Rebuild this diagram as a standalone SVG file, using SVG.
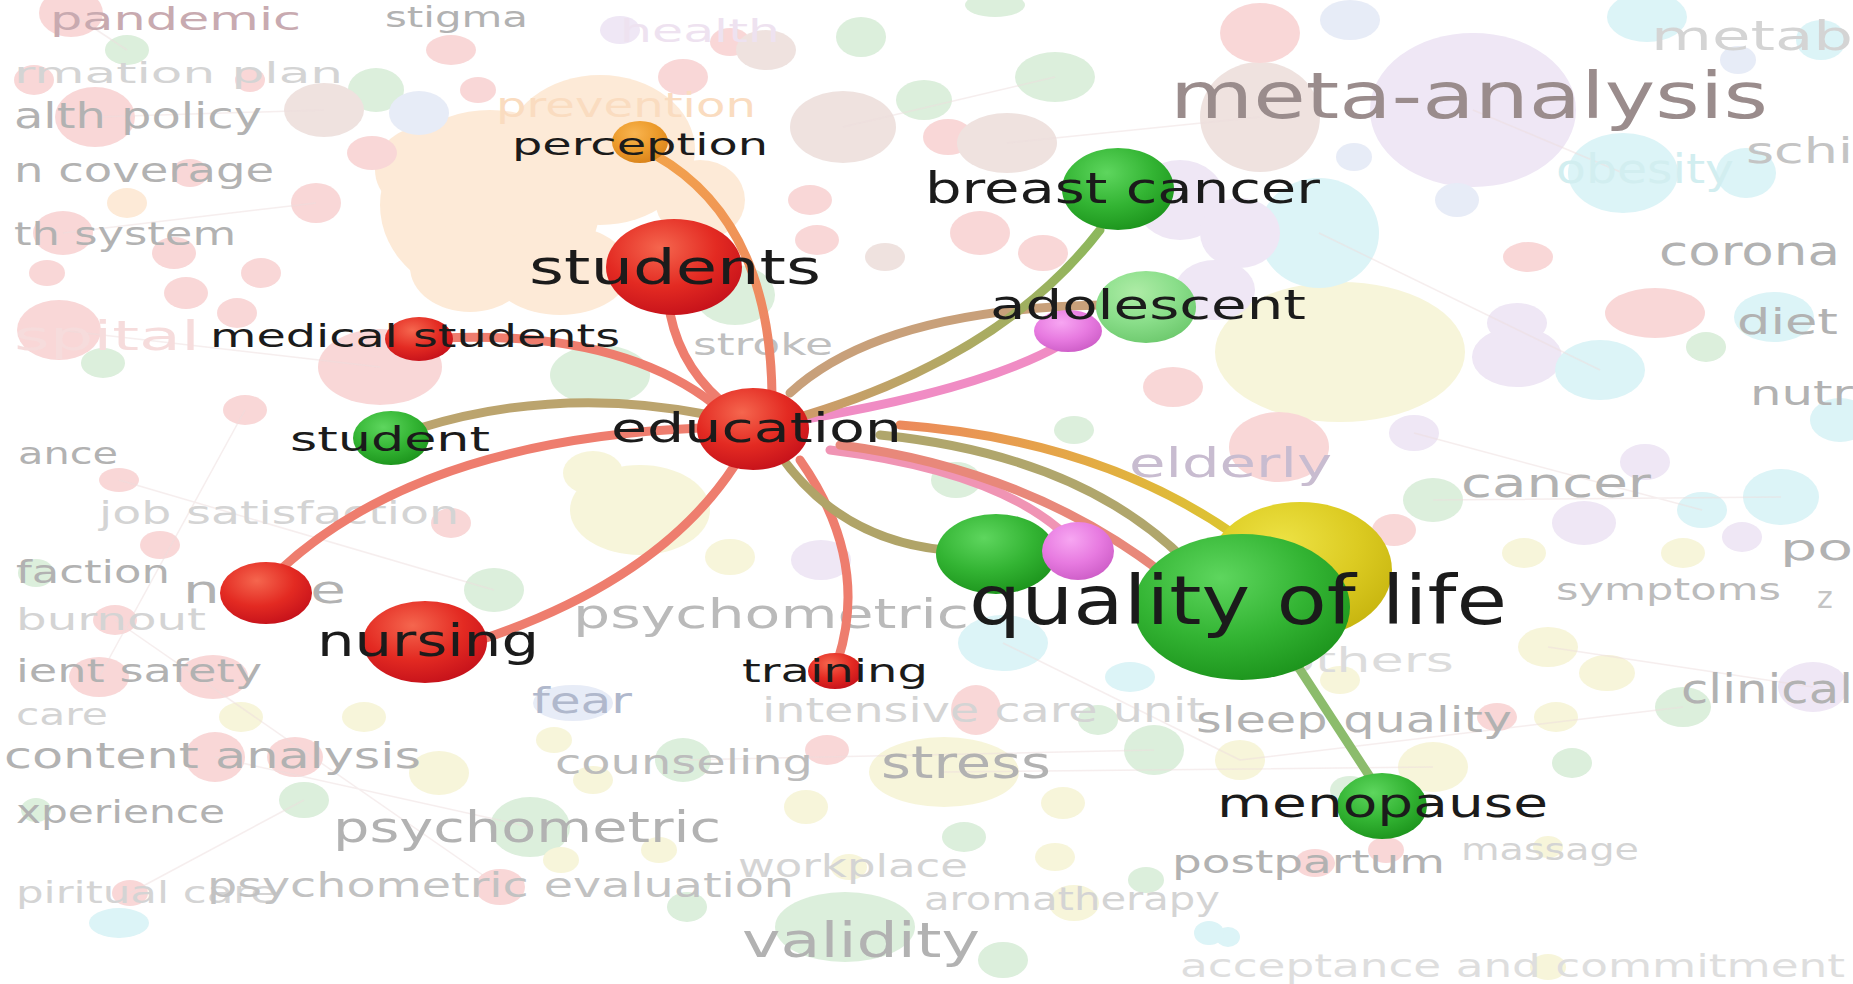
<svg xmlns="http://www.w3.org/2000/svg" width="1853" height="984" viewBox="0 0 1853 984">
<defs>
<style>
text{font-family:"DejaVu Sans","Verdana",sans-serif}
.lbl{fill:#1b1b1b}
.fd{fill:#b2b2b2}
.fv{fill:#d4d4d4}
.p{fill:#f7c9c9}.g{fill:#cfe9cf}.o{fill:#fde3c8}.u{fill:#e9def2}.c{fill:#cff0f4}.y{fill:#f5f2cc}.b{fill:#e9d8d4}.l{fill:#dfe5f4}
.bgl{fill:none;stroke:#eedede;stroke-width:1.5;opacity:.5}
.e{fill:none;stroke-width:9;stroke-linecap:round}
</style>
<radialGradient id="gRed" cx="0.4" cy="0.3" r="0.75"><stop offset="0" stop-color="#f5664e"/><stop offset="0.55" stop-color="#e32a22"/><stop offset="1" stop-color="#c4101a"/></radialGradient>
<radialGradient id="gGreen" cx="0.4" cy="0.3" r="0.75"><stop offset="0" stop-color="#5ed65e"/><stop offset="0.55" stop-color="#33b433"/><stop offset="1" stop-color="#1b921b"/></radialGradient>
<radialGradient id="gOrange" cx="0.4" cy="0.3" r="0.75"><stop offset="0" stop-color="#f8b450"/><stop offset="0.55" stop-color="#ec9a2a"/><stop offset="1" stop-color="#d8821a"/></radialGradient>
<radialGradient id="gPink" cx="0.4" cy="0.3" r="0.75"><stop offset="0" stop-color="#f7a6f2"/><stop offset="0.55" stop-color="#e77ae0"/><stop offset="1" stop-color="#cc5cc6"/></radialGradient>
<radialGradient id="gYellow" cx="0.4" cy="0.3" r="0.75"><stop offset="0" stop-color="#ede244"/><stop offset="0.55" stop-color="#dccb22"/><stop offset="1" stop-color="#c6b40e"/></radialGradient>
<radialGradient id="gLGreen" cx="0.4" cy="0.3" r="0.75"><stop offset="0" stop-color="#aeeca6"/><stop offset="0.55" stop-color="#8ade8a"/><stop offset="1" stop-color="#6cc86c"/></radialGradient>
<linearGradient id="ePerc" gradientUnits="userSpaceOnUse" x1="655" y1="155" x2="772" y2="395"><stop offset="0" stop-color="#f2a24a"/><stop offset="1" stop-color="#ec7e6c"/></linearGradient>
<linearGradient id="eYel" gradientUnits="userSpaceOnUse" x1="900" y1="425" x2="1235" y2="535"><stop offset="0" stop-color="#ec8a5c"/><stop offset="1" stop-color="#dcc630"/></linearGradient>
<linearGradient id="eBreast" gradientUnits="userSpaceOnUse" x1="790" y1="420" x2="1100" y2="230"><stop offset="0" stop-color="#d29a6a"/><stop offset="1" stop-color="#8cb85c"/></linearGradient>
</defs>
<rect x="0" y="0" width="1853" height="984" fill="#ffffff"/>
<g id="background-bubbles" opacity="0.72">
<ellipse class="o" cx="490" cy="205" rx="110" ry="95"/><ellipse class="o" cx="600" cy="150" rx="95" ry="75"/><ellipse class="o" cx="430" cy="170" rx="55" ry="45"/><ellipse class="o" cx="560" cy="270" rx="70" ry="45"/><ellipse class="o" cx="470" cy="267" rx="60" ry="45"/><ellipse class="o" cx="700" cy="200" rx="45" ry="40"/><ellipse class="o" cx="127" cy="203" rx="20" ry="15"/>
<ellipse class="y" cx="1340" cy="352" rx="125" ry="70"/><ellipse class="y" cx="640" cy="510" rx="70" ry="45"/><ellipse class="y" cx="944" cy="772" rx="75" ry="35"/>
<ellipse class="u" cx="1473" cy="110" rx="103" ry="77"/><ellipse class="u" cx="1180" cy="200" rx="45" ry="40"/><ellipse class="u" cx="1215" cy="290" rx="40" ry="30"/>
<ellipse class="c" cx="1319" cy="233" rx="60" ry="55"/><ellipse class="c" cx="1623" cy="173" rx="55" ry="40"/>
<ellipse class="b" cx="1260" cy="117" rx="60" ry="55"/>
<ellipse class="p" cx="71" cy="13" rx="32" ry="24"/><ellipse class="p" cx="34" cy="80" rx="20" ry="15"/><ellipse class="p" cx="95" cy="117" rx="40" ry="30"/><ellipse class="p" cx="451" cy="50" rx="25" ry="15"/><ellipse class="p" cx="478" cy="90" rx="18" ry="13"/><ellipse class="p" cx="372" cy="153" rx="25" ry="17"/><ellipse class="p" cx="316" cy="203" rx="25" ry="20"/><ellipse class="p" cx="63" cy="233" rx="30" ry="22"/><ellipse class="p" cx="190" cy="173" rx="18" ry="14"/><ellipse class="p" cx="47" cy="273" rx="18" ry="13"/><ellipse class="p" cx="174" cy="253" rx="22" ry="16"/><ellipse class="p" cx="261" cy="273" rx="20" ry="15"/><ellipse class="p" cx="186" cy="293" rx="22" ry="16"/><ellipse class="p" cx="237" cy="313" rx="20" ry="15"/><ellipse class="p" cx="59" cy="330" rx="42" ry="30"/><ellipse class="p" cx="380" cy="367" rx="62" ry="38"/><ellipse class="p" cx="245" cy="410" rx="22" ry="15"/><ellipse class="p" cx="119" cy="480" rx="20" ry="12"/><ellipse class="p" cx="451" cy="523" rx="20" ry="15"/><ellipse class="p" cx="115" cy="620" rx="22" ry="15"/><ellipse class="p" cx="99" cy="677" rx="30" ry="20"/><ellipse class="p" cx="213" cy="677" rx="35" ry="22"/><ellipse class="p" cx="215" cy="757" rx="30" ry="25"/><ellipse class="p" cx="295" cy="757" rx="28" ry="20"/><ellipse class="p" cx="130" cy="893" rx="18" ry="13"/><ellipse class="p" cx="500" cy="887" rx="25" ry="18"/><ellipse class="p" cx="683" cy="77" rx="25" ry="18"/><ellipse class="p" cx="948" cy="137" rx="25" ry="18"/><ellipse class="p" cx="810" cy="200" rx="22" ry="15"/><ellipse class="p" cx="817" cy="240" rx="22" ry="15"/><ellipse class="p" cx="980" cy="233" rx="30" ry="22"/><ellipse class="p" cx="1043" cy="253" rx="25" ry="18"/><ellipse class="p" cx="1260" cy="33" rx="40" ry="30"/><ellipse class="p" cx="1528" cy="257" rx="25" ry="15"/><ellipse class="p" cx="1655" cy="313" rx="50" ry="25"/><ellipse class="p" cx="1279" cy="447" rx="50" ry="35"/><ellipse class="p" cx="1394" cy="530" rx="22" ry="16"/><ellipse class="p" cx="1497" cy="717" rx="20" ry="14"/><ellipse class="p" cx="1315" cy="863" rx="20" ry="14"/><ellipse class="p" cx="1386" cy="850" rx="18" ry="13"/><ellipse class="p" cx="976" cy="710" rx="25" ry="25"/><ellipse class="p" cx="827" cy="750" rx="22" ry="15"/><ellipse class="p" cx="1173" cy="387" rx="30" ry="20"/><ellipse class="p" cx="730" cy="42" rx="20" ry="14"/><ellipse class="p" cx="250" cy="80" rx="15" ry="12"/><ellipse class="p" cx="160" cy="545" rx="20" ry="14"/><ellipse class="p" cx="290" cy="590" rx="18" ry="13"/>
<ellipse class="g" cx="127" cy="50" rx="22" ry="15"/><ellipse class="g" cx="376" cy="90" rx="28" ry="22"/><ellipse class="g" cx="103" cy="363" rx="22" ry="15"/><ellipse class="g" cx="36" cy="573" rx="18" ry="14"/><ellipse class="g" cx="494" cy="590" rx="30" ry="22"/><ellipse class="g" cx="304" cy="800" rx="25" ry="18"/><ellipse class="g" cx="36" cy="810" rx="15" ry="12"/><ellipse class="g" cx="530" cy="827" rx="40" ry="30"/><ellipse class="g" cx="861" cy="37" rx="25" ry="20"/><ellipse class="g" cx="924" cy="100" rx="28" ry="20"/><ellipse class="g" cx="1055" cy="77" rx="40" ry="25"/><ellipse class="g" cx="995" cy="5" rx="30" ry="12"/><ellipse class="g" cx="1706" cy="347" rx="20" ry="15"/><ellipse class="g" cx="1433" cy="500" rx="30" ry="22"/><ellipse class="g" cx="1683" cy="707" rx="28" ry="20"/><ellipse class="g" cx="1572" cy="763" rx="20" ry="15"/><ellipse class="g" cx="1154" cy="750" rx="30" ry="25"/><ellipse class="g" cx="1098" cy="720" rx="20" ry="15"/><ellipse class="g" cx="683" cy="760" rx="28" ry="22"/><ellipse class="g" cx="964" cy="837" rx="22" ry="15"/><ellipse class="g" cx="1146" cy="880" rx="18" ry="13"/><ellipse class="g" cx="687" cy="907" rx="20" ry="15"/><ellipse class="g" cx="845" cy="927" rx="70" ry="35"/><ellipse class="g" cx="1003" cy="960" rx="25" ry="18"/><ellipse class="g" cx="1074" cy="430" rx="20" ry="14"/><ellipse class="g" cx="735" cy="295" rx="40" ry="30"/><ellipse class="g" cx="600" cy="375" rx="50" ry="30"/><ellipse class="g" cx="956" cy="480" rx="25" ry="18"/><ellipse class="g" cx="1350" cy="790" rx="20" ry="14"/>
<ellipse class="u" cx="1240" cy="233" rx="40" ry="35"/><ellipse class="u" cx="1517" cy="357" rx="45" ry="30"/><ellipse class="u" cx="1414" cy="433" rx="25" ry="18"/><ellipse class="u" cx="1645" cy="462" rx="25" ry="18"/><ellipse class="u" cx="1584" cy="523" rx="32" ry="22"/><ellipse class="u" cx="1742" cy="537" rx="20" ry="15"/><ellipse class="u" cx="1813" cy="687" rx="35" ry="25"/><ellipse class="u" cx="1517" cy="323" rx="30" ry="20"/><ellipse class="u" cx="821" cy="560" rx="30" ry="20"/><ellipse class="u" cx="620" cy="30" rx="20" ry="14"/>
<ellipse class="c" cx="1746" cy="173" rx="30" ry="25"/><ellipse class="c" cx="1647" cy="17" rx="40" ry="25"/><ellipse class="c" cx="1821" cy="40" rx="25" ry="20"/><ellipse class="c" cx="1774" cy="317" rx="40" ry="25"/><ellipse class="c" cx="1600" cy="370" rx="45" ry="30"/><ellipse class="c" cx="1702" cy="510" rx="25" ry="18"/><ellipse class="c" cx="1781" cy="497" rx="38" ry="28"/><ellipse class="c" cx="1003" cy="643" rx="45" ry="28"/><ellipse class="c" cx="1130" cy="677" rx="25" ry="15"/><ellipse class="c" cx="1228" cy="937" rx="12" ry="10"/><ellipse class="c" cx="1209" cy="933" rx="15" ry="12"/><ellipse class="c" cx="119" cy="923" rx="30" ry="15"/><ellipse class="c" cx="1840" cy="420" rx="30" ry="22"/>
<ellipse class="y" cx="1524" cy="553" rx="22" ry="15"/><ellipse class="y" cx="1683" cy="553" rx="22" ry="15"/><ellipse class="y" cx="1548" cy="647" rx="30" ry="20"/><ellipse class="y" cx="1240" cy="760" rx="25" ry="20"/><ellipse class="y" cx="1433" cy="767" rx="35" ry="25"/><ellipse class="y" cx="1607" cy="673" rx="28" ry="18"/><ellipse class="y" cx="1556" cy="717" rx="22" ry="15"/><ellipse class="y" cx="1548" cy="847" rx="15" ry="11"/><ellipse class="y" cx="1548" cy="967" rx="18" ry="13"/><ellipse class="y" cx="806" cy="807" rx="22" ry="17"/><ellipse class="y" cx="1055" cy="857" rx="20" ry="14"/><ellipse class="y" cx="1063" cy="803" rx="22" ry="16"/><ellipse class="y" cx="659" cy="850" rx="18" ry="13"/><ellipse class="y" cx="849" cy="867" rx="18" ry="13"/><ellipse class="y" cx="1074" cy="903" rx="25" ry="18"/><ellipse class="y" cx="241" cy="717" rx="22" ry="15"/><ellipse class="y" cx="364" cy="717" rx="22" ry="15"/><ellipse class="y" cx="439" cy="773" rx="30" ry="22"/><ellipse class="y" cx="554" cy="740" rx="18" ry="13"/><ellipse class="y" cx="561" cy="860" rx="18" ry="13"/><ellipse class="y" cx="593" cy="780" rx="20" ry="14"/><ellipse class="y" cx="593" cy="473" rx="30" ry="22"/><ellipse class="y" cx="730" cy="557" rx="25" ry="18"/><ellipse class="y" cx="1340" cy="680" rx="20" ry="14"/>
<ellipse class="b" cx="843" cy="127" rx="53" ry="36"/><ellipse class="b" cx="766" cy="50" rx="30" ry="20"/><ellipse class="b" cx="1007" cy="143" rx="50" ry="30"/><ellipse class="b" cx="885" cy="257" rx="20" ry="14"/><ellipse class="b" cx="324" cy="110" rx="40" ry="27"/>
<ellipse class="l" cx="419" cy="113" rx="30" ry="22"/><ellipse class="l" cx="1350" cy="20" rx="30" ry="20"/><ellipse class="l" cx="1738" cy="60" rx="18" ry="14"/><ellipse class="l" cx="1354" cy="157" rx="18" ry="14"/><ellipse class="l" cx="1457" cy="200" rx="22" ry="17"/><ellipse class="l" cx="573" cy="703" rx="40" ry="18"/>
</g>
<g id="background-links">
<path class="bgl" d="M95,117 L324,110 M71,13 L127,50 M63,233 L316,203 M59,330 L380,367 M119,480 L494,590 M215,757 L530,827 M99,677 L245,410 M1473,110 L1623,173 M1319,233 L1600,370 M1433,500 L1781,497 M1240,760 L1683,707 M944,772 L1433,767 M683,760 L1154,750 M1548,647 L1813,687 M1003,643 L1240,760 M843,127 L1055,77 M1007,143 L1260,117 M115,620 L500,887 M304,800 L130,893 M1414,433 L1702,510"/>
</g>
<g id="background-labels">
<text x="50" y="30" font-size="32" textLength="251" lengthAdjust="spacingAndGlyphs" style="fill:#c8aab0">pandemic</text>
<text class="fd" x="385" y="27" font-size="28" textLength="143" lengthAdjust="spacingAndGlyphs">stigma</text>
<text class="fv" x="14" y="83" font-size="28" textLength="329" lengthAdjust="spacingAndGlyphs">rmation plan</text>
<text class="fd" x="14" y="128" font-size="36" textLength="248" lengthAdjust="spacingAndGlyphs">alth policy</text>
<text class="fd" x="14" y="182" font-size="33" textLength="260" lengthAdjust="spacingAndGlyphs">n coverage</text>
<text class="fd" x="14" y="245" font-size="32" textLength="222" lengthAdjust="spacingAndGlyphs">th system</text>
<text x="14" y="350" font-size="40" textLength="186" lengthAdjust="spacingAndGlyphs" style="fill:#f6dcdc">spital</text>
<text class="fd" x="18" y="464" font-size="30" textLength="100" lengthAdjust="spacingAndGlyphs">ance</text>
<text class="fv" x="99" y="524" font-size="32" textLength="360" lengthAdjust="spacingAndGlyphs">job satisfaction</text>
<text class="fd" x="16" y="583" font-size="32" textLength="154" lengthAdjust="spacingAndGlyphs">faction</text>
<text class="fv" x="16" y="630" font-size="30" textLength="190" lengthAdjust="spacingAndGlyphs">burnout</text>
<text class="fd" x="16" y="682" font-size="32" textLength="246" lengthAdjust="spacingAndGlyphs">ient safety</text>
<text class="fv" x="16" y="725" font-size="30" textLength="92" lengthAdjust="spacingAndGlyphs">care</text>
<text class="fd" x="4" y="768" font-size="36" textLength="417" lengthAdjust="spacingAndGlyphs">content analysis</text>
<text class="fd" x="16" y="823" font-size="32" textLength="209" lengthAdjust="spacingAndGlyphs">xperience</text>
<text class="fd" x="333" y="842" font-size="42" textLength="388" lengthAdjust="spacingAndGlyphs">psychometric</text>
<text class="fv" x="16" y="903" font-size="30" textLength="261" lengthAdjust="spacingAndGlyphs">piritual care</text>
<text x="207" y="897" font-size="34" textLength="587" lengthAdjust="spacingAndGlyphs" style="fill:#c2c2c2">psychometric evaluation</text>
<text class="fv" x="738" y="877" font-size="32" textLength="230" lengthAdjust="spacingAndGlyphs">workplace</text>
<text class="fd" x="742" y="957" font-size="48" textLength="238" lengthAdjust="spacingAndGlyphs">validity</text>
<text class="fv" x="924" y="910" font-size="32" textLength="296" lengthAdjust="spacingAndGlyphs">aromatherapy</text>
<text class="fd" x="881" y="778" font-size="44" textLength="170" lengthAdjust="spacingAndGlyphs">stress</text>
<text class="fd" x="555" y="774" font-size="34" textLength="258" lengthAdjust="spacingAndGlyphs" style="fill:#bcbcbc">counseling</text>
<text x="532" y="713" font-size="36" textLength="100" lengthAdjust="spacingAndGlyphs" style="fill:#b0b8cc">fear</text>
<text class="fv" x="762" y="722" font-size="34" textLength="443" lengthAdjust="spacingAndGlyphs">intensive care unit</text>
<text class="fd" x="1196" y="732" font-size="36" textLength="316" lengthAdjust="spacingAndGlyphs">sleep quality</text>
<text class="fv" x="1282" y="672" font-size="34" textLength="172" lengthAdjust="spacingAndGlyphs" style="fill:#dcdcdc">others</text>
<text class="fd" x="1172" y="873" font-size="32" textLength="273" lengthAdjust="spacingAndGlyphs">postpartum</text>
<text class="fv" x="1461" y="860" font-size="30" textLength="178" lengthAdjust="spacingAndGlyphs">massage</text>
<text class="fv" x="1180" y="977" font-size="32" textLength="665" lengthAdjust="spacingAndGlyphs" style="fill:#dedede">acceptance and commitment</text>
<text class="fd" x="1681" y="703" font-size="40" textLength="172" lengthAdjust="spacingAndGlyphs">clinical</text>
<text class="fd" x="1556" y="600" font-size="30" textLength="225" lengthAdjust="spacingAndGlyphs" style="fill:#bcbcbc">symptoms</text>
<text class="fd" x="1780" y="560" font-size="36" textLength="73" lengthAdjust="spacingAndGlyphs">po</text>
<text class="fd" x="1817" y="608" font-size="30" style="fill:#c4c4c4">z</text>
<text class="fd" x="1461" y="497" font-size="40" textLength="190" lengthAdjust="spacingAndGlyphs">cancer</text>
<text x="1129" y="477" font-size="40" textLength="203" lengthAdjust="spacingAndGlyphs" style="fill:#c8bcd0">elderly</text>
<text class="fd" x="1750" y="405" font-size="34" textLength="103" lengthAdjust="spacingAndGlyphs">nutr</text>
<text class="fd" x="1737" y="334" font-size="36" textLength="101" lengthAdjust="spacingAndGlyphs">diet</text>
<text class="fd" x="1659" y="265" font-size="40" textLength="181" lengthAdjust="spacingAndGlyphs">corona</text>
<text class="fd" x="1746" y="163" font-size="36" textLength="107" lengthAdjust="spacingAndGlyphs" style="fill:#c4c4c4">schi</text>
<text class="fv" x="1651" y="50" font-size="40" textLength="202" lengthAdjust="spacingAndGlyphs">metab</text>
<text x="1556" y="183" font-size="40" textLength="178" lengthAdjust="spacingAndGlyphs" style="fill:#d2eef0">obesity</text>
<text x="496" y="117" font-size="34" textLength="260" lengthAdjust="spacingAndGlyphs" style="fill:#fadcc0">prevention</text>
<text x="620" y="42" font-size="32" textLength="160" lengthAdjust="spacingAndGlyphs" style="fill:#eee2f0">health</text>
<text x="1170" y="118" font-size="64" textLength="598" lengthAdjust="spacingAndGlyphs" style="fill:#9a8c8c">meta-analysis</text>
<text class="fd" x="573" y="628" font-size="40" textLength="396" lengthAdjust="spacingAndGlyphs" style="fill:#bababa">psychometric</text>
<text x="693" y="355" font-size="30" textLength="140" lengthAdjust="spacingAndGlyphs" style="fill:#c0c0c0">stroke</text>
</g>
<g id="connectors">
<path class="e" stroke="url(#ePerc)" d="M655,155 Q770,220 772,395"/>
<path class="e" stroke="#ee7d6e" d="M668,300 Q675,360 720,400"/>
<path class="e" stroke="#ee7d6e" d="M440,338 Q620,330 715,405"/>
<path class="e" stroke="#bba46e" d="M420,428 Q560,385 710,415"/>
<path class="e" stroke="#ee7d6e" d="M280,570 Q420,440 700,428"/>
<path class="e" stroke="#ee7d6e" d="M735,465 Q660,580 480,640"/>
<path class="e" stroke="#ee7d6e" d="M800,460 Q870,560 838,660"/>
<path class="e" stroke="#b0a468" d="M780,455 Q840,540 945,550"/>
<path class="e" stroke="#f094b4" d="M830,450 Q990,470 1060,530"/>
<path class="e" stroke="#e8887a" d="M840,445 Q1030,470 1165,575"/>
<path class="e" stroke="#b0a66c" d="M880,435 Q1080,455 1185,560"/>
<path class="e" stroke="url(#eYel)" d="M900,425 Q1100,440 1235,535"/>
<path class="e" stroke="#f08cc4" d="M800,420 Q980,390 1060,345"/>
<path class="e" stroke="#c8a07a" d="M790,393 Q880,310 1100,305"/>
<path class="e" stroke="url(#eBreast)" d="M790,420 Q1000,360 1100,230"/>
<path class="e" stroke="#8cbc6c" stroke-width="11" d="M1295,662 L1372,780"/>
</g>
<g id="node-green-unlabeled"><ellipse cx="996" cy="554" rx="60" ry="40" fill="url(#gGreen)"/></g>
<g id="node-pink-unlabeled"><ellipse cx="1078" cy="551" rx="36" ry="29" fill="url(#gPink)"/></g>
<g id="node-perception"><ellipse cx="640" cy="142" rx="28" ry="21" fill="url(#gOrange)"/><text class="lbl" x="512" y="155" font-size="30" textLength="256" lengthAdjust="spacingAndGlyphs">perception</text></g>
<g id="node-students"><ellipse cx="674" cy="267" rx="68" ry="48" fill="url(#gRed)"/><text class="lbl" x="529" y="284" font-size="48" textLength="292" lengthAdjust="spacingAndGlyphs">students</text></g>
<g id="node-medical-students"><ellipse cx="419" cy="339" rx="34" ry="22" fill="url(#gRed)"/><text class="lbl" x="210" y="347" font-size="32" textLength="410" lengthAdjust="spacingAndGlyphs">medical students</text></g>
<g id="node-student"><ellipse cx="391" cy="438" rx="38" ry="27" fill="url(#gGreen)"/><text class="lbl" x="290" y="451" font-size="34" textLength="200" lengthAdjust="spacingAndGlyphs">student</text></g>
<g id="node-nurse"><text class="fd" x="183" y="603" font-size="38" textLength="163" lengthAdjust="spacingAndGlyphs">nurse</text><ellipse cx="266" cy="593" rx="46" ry="31" fill="url(#gRed)"/></g>
<g id="node-nursing"><ellipse cx="425" cy="642" rx="62" ry="41" fill="url(#gRed)"/><text class="lbl" x="317" y="656" font-size="44" textLength="222" lengthAdjust="spacingAndGlyphs">nursing</text></g>
<g id="node-training"><ellipse cx="835" cy="671" rx="27" ry="18" fill="url(#gRed)"/><text class="lbl" x="742" y="682" font-size="32" textLength="186" lengthAdjust="spacingAndGlyphs">training</text></g>
<g id="node-education"><ellipse cx="753" cy="429" rx="56" ry="41" fill="url(#gRed)"/><text class="lbl" x="611" y="442" font-size="40" textLength="291" lengthAdjust="spacingAndGlyphs">education</text></g>
<g id="node-breast-cancer"><ellipse cx="1118" cy="189" rx="56" ry="41" fill="url(#gGreen)"/><text class="lbl" x="925" y="203" font-size="42" textLength="395" lengthAdjust="spacingAndGlyphs">breast cancer</text></g>
<g id="node-adolescent"><ellipse cx="1146" cy="307" rx="50" ry="36" fill="url(#gLGreen)"/><ellipse cx="1068" cy="331" rx="34" ry="21" fill="url(#gPink)"/><text class="lbl" x="990" y="319" font-size="40" textLength="316" lengthAdjust="spacingAndGlyphs">adolescent</text></g>
<g id="node-quality-of-life"><ellipse cx="1300" cy="570" rx="92" ry="68" fill="url(#gYellow)"/><ellipse cx="1242" cy="607" rx="108" ry="73" fill="url(#gGreen)"/><text class="lbl" x="969" y="624" font-size="68" textLength="538" lengthAdjust="spacingAndGlyphs">quality of life</text></g>
<g id="node-menopause"><ellipse cx="1382" cy="806" rx="45" ry="33" fill="url(#gGreen)"/><text class="lbl" x="1217" y="817" font-size="40" textLength="331" lengthAdjust="spacingAndGlyphs">menopause</text></g>
</svg>
